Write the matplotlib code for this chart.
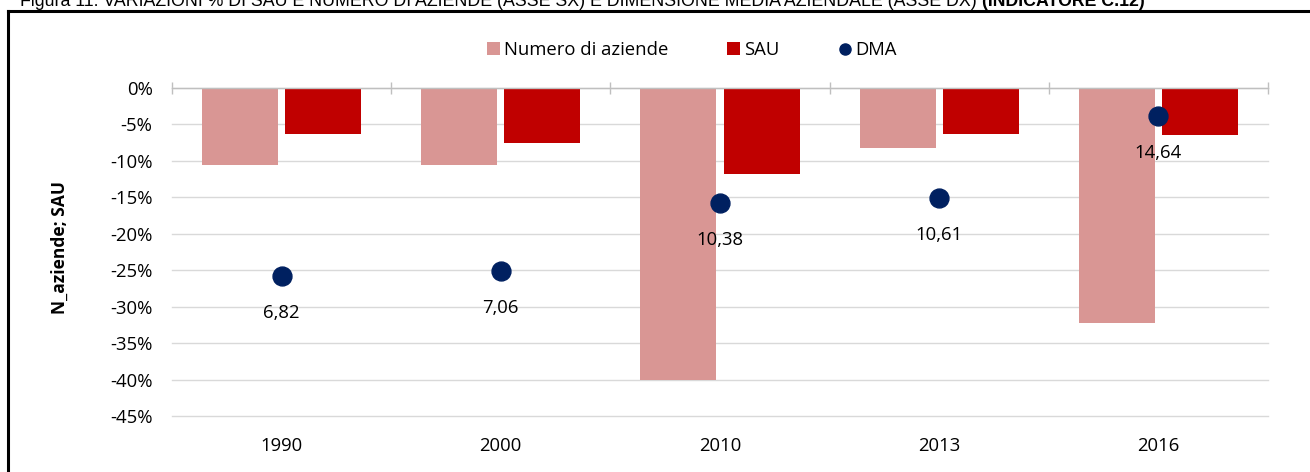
import matplotlib

matplotlib.use("Agg")
import matplotlib.pyplot as plt
from matplotlib.lines import Line2D
from matplotlib.patches import Patch
from matplotlib.ticker import FuncFormatter
import numpy as np

# data
years = ["1990", "2000", "2010", "2013", "2016"]
n_aziende = [-10.6, -10.6, -40.0, -8.3, -32.2]   # % variation, left axis
sau = [-6.3, -7.6, -11.8, -6.3, -6.45]           # % variation, left axis
dma = [6.82, 7.06, 10.38, 10.61, 14.64]          # ha, right (hidden) axis
dma_labels = ["6,82", "7,06", "10,38", "10,61", "14,64"]

C_NUM = "#D99694"
C_SAU = "#C00000"
C_DMA = "#002060"
GRID = "#D9D9D9"

plt.rcParams["font.family"] = ["Open Sans", "DejaVu Sans"]
FS = 13.3

fig = plt.figure(figsize=(13.1, 4.72), dpi=100)
ax = fig.add_axes([172 / 1310, 1 - 416 / 472, 1096 / 1310, 328 / 472])

xs = np.arange(len(years))
w = 0.347
ax.bar(xs - 0.19, n_aziende, width=w, color=C_NUM, zorder=2)
ax.bar(xs + 0.19, sau, width=w, color=C_SAU, zorder=2)

ax.set_xlim(-0.5, len(years) - 0.5)
ax.set_ylim(-45, 0)
ax.set_yticks(np.arange(-45, 1, 5))
ax.yaxis.set_major_formatter(FuncFormatter(lambda v, _: f"{v:.0f}%"))
ax.grid(axis="y", color=GRID, linewidth=1.0, zorder=0)
for gl in ax.get_ygridlines():
    gl.set_clip_on(False)
ax.set_axisbelow(True)

for side in ("left", "right", "bottom"):
    ax.spines[side].set_visible(False)
ax.spines["top"].set_color("#BFBFBF")
ax.spines["top"].set_linewidth(1.0)

ax.set_xticks(xs)
ax.set_xticklabels(years)
ax.set_xticks(np.arange(len(years) + 1) - 0.5, minor=True)
ax.tick_params(axis="x", which="major", length=0, pad=15, labelsize=FS)
ax.tick_params(axis="x", which="minor", bottom=False, top=True,
               direction="inout", length=8.5, color="#BFBFBF", width=1.0)
ax.tick_params(axis="y", length=0, pad=14, labelsize=FS)

ax.set_ylabel("N_aziende; SAU", fontsize=12.5, fontweight="bold")
ax.yaxis.set_label_coords(-0.094, 0.515)

# DMA on a hidden secondary axis
ax2 = ax.twinx()
ax2.set_ylim(0, 16)
ax2.axis("off")
ax2.scatter(xs, dma, s=185, color=C_DMA, zorder=4)
for x, v, lab in zip(xs, dma, dma_labels):
    ax2.annotate(lab, (x, v), xytext=(0, -26.5), textcoords="offset points",
                 ha="center", va="center", fontsize=FS, color="#000000")

handles = [
    Patch(facecolor=C_NUM, label="Numero di aziende"),
    Patch(facecolor=C_SAU, label="SAU"),
    Line2D([], [], marker="o", linestyle="none", markersize=8,
           color=C_DMA, label="DMA"),
]
fig.legend(handles=handles, loc="center", bbox_to_anchor=(692 / 1310, 1 - 50 / 472),
           ncol=3, frameon=False, fontsize=FS, handlelength=0.7,
           handleheight=0.7, handletextpad=0.2, columnspacing=3.2)

# frame of the report box (only top/left visible in the crop)
fig.add_artist(Line2D([8 / 1310, 8 / 1310], [0, 1 - 11 / 472],
                      transform=fig.transFigure, color="black", linewidth=2.2))
fig.add_artist(Line2D([8 / 1310, 1], [1 - 11 / 472, 1 - 11 / 472],
                      transform=fig.transFigure, color="black", linewidth=2.2))

# caption above the box, cut off at the top as in the source crop
t1 = fig.text(20 / 1310, 1 - 6 / 472,
              "Figura 11: VARIAZIONI % DI SAU E NUMERO DI AZIENDE (ASSE SX) E "
              "DIMENSIONE MEDIA AZIENDALE (ASSE DX) ",
              family="Liberation Sans", fontsize=12.8, va="baseline", ha="left")
fig.canvas.draw()
bb = t1.get_window_extent(fig.canvas.get_renderer())
fig.text(bb.x1 / fig.bbox.width, 1 - 6 / 472, "(INDICATORE C.12)",
         family="Liberation Sans", fontsize=12.8, fontweight="bold",
         va="baseline", ha="left")

fig.savefig("out.png", dpi=100)
